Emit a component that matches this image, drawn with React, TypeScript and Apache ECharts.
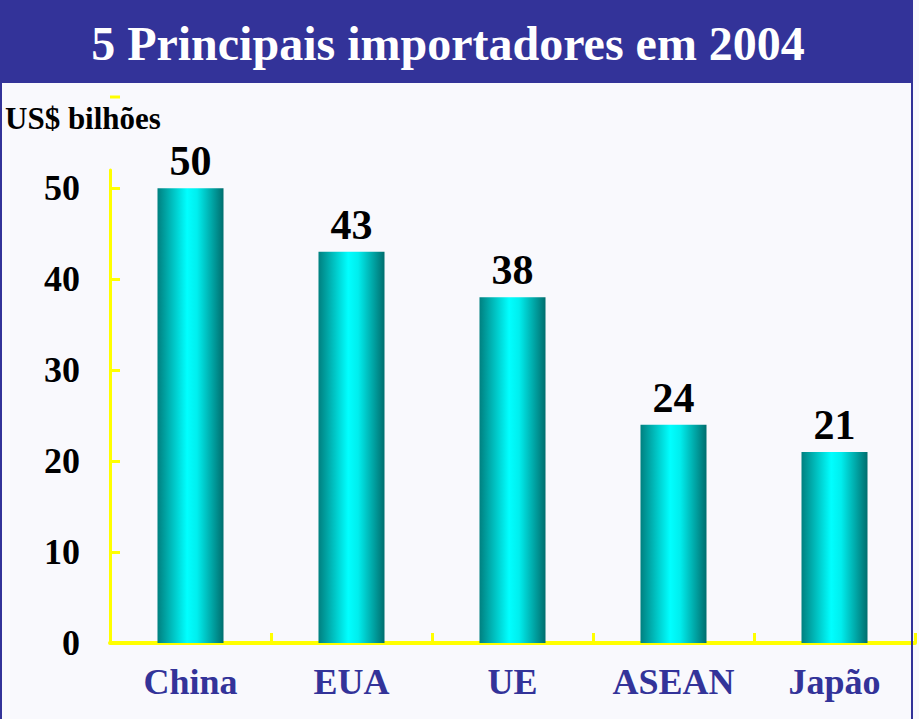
import React, { useEffect, useRef } from "react";
import * as echarts from "echarts";

const categories = ["China", "EUA", "UE", "ASEAN", "Japão"];
const values = [50, 43, 38, 24, 21];
const yTicks = [0, 10, 20, 30, 40, 50];
const titleText = "5 Principais importadores em 2004";
const unitText = "US$ bilhões";

export default function App() {
  const ref = useRef<HTMLDivElement>(null);
  useEffect(() => {
    if (!ref.current) return;
    const chart = echarts.init(ref.current, undefined, { renderer: "svg" });
    const serif = "'Liberation Serif', 'Times New Roman', serif";
    chart.setOption({
      animation: false,
      backgroundColor: "#f9f9fd",
      grid: { left: 110, right: 4, top: 170, bottom: 76 },
      graphic: [
        { type: "rect", shape: { x: 0, y: 0, width: 913, height: 83 }, style: { fill: "#333399" }, z: 10 },
        { type: "rect", shape: { x: 0, y: 0, width: 2, height: 719 }, style: { fill: "#333399" }, z: 10 },
        { type: "rect", shape: { x: 911, y: 0, width: 2, height: 719 }, style: { fill: "#333399" }, z: 10 },
        {
          type: "text", x: 448, y: 43, z: 11,
          style: { text: titleText, fill: "#ffffff", font: `bold 48px ${serif}`, textAlign: "center", textVerticalAlign: "middle" },
        },
        {
          type: "text", x: 5, y: 118, z: 11,
          style: { text: unitText, fill: "#000000", font: `bold 31px ${serif}`, textAlign: "left", textVerticalAlign: "middle" },
        },
        { type: "line", shape: { x1: 110, y1: 97, x2: 120, y2: 97 }, style: { stroke: "#ffff00", lineWidth: 3 }, z: 11 },
      ],
      xAxis: {
        type: "category",
        data: categories,
        axisLine: { lineStyle: { color: "#ffff00", width: 4 } },
        axisTick: { show: true, inside: true, length: 10, alignWithLabel: false, lineStyle: { color: "#ffff00", width: 3 } },
        axisLabel: { color: "#333399", fontFamily: serif, fontWeight: "bold", fontSize: 36, margin: 21 },
      },
      yAxis: {
        type: "value",
        min: 0,
        max: 52,
        interval: 10,
        splitLine: { show: false },
        axisLine: { show: true, lineStyle: { color: "#ffff00", width: 3 } },
        axisTick: { show: true, inside: true, length: 10, customValues: yTicks, lineStyle: { color: "#ffff00", width: 3 } },
        axisLabel: { color: "#000000", fontFamily: serif, fontWeight: "bold", fontSize: 36, margin: 30, customValues: yTicks },
      },
      series: [
        {
          type: "bar",
          data: values,
          barWidth: "41%",
          itemStyle: {
            color: new echarts.graphic.LinearGradient(0, 0, 1, 0, [
              { offset: 0, color: "#008080" },
              { offset: 0.45, color: "#00ffff" },
              { offset: 0.6, color: "#00eeee" },
              { offset: 1, color: "#006e6e" },
            ]),
          },
          label: {
            show: true,
            position: "top",
            distance: 6,
            color: "#000000",
            fontFamily: serif,
            fontWeight: "bold",
            fontSize: 42,
          },
        },
      ],
    });
    return () => chart.dispose();
  }, []);
  return <div ref={ref} style={{ position: "absolute", left: 0, top: 0, width: 919, height: 719 }} />;
}
